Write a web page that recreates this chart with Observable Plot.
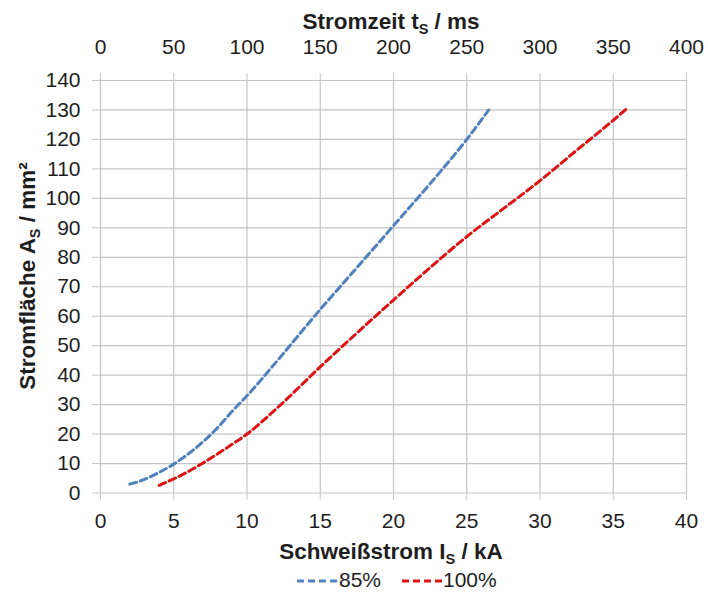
<!DOCTYPE html>
<html><head><meta charset="utf-8">
<script src="https://cdn.jsdelivr.net/npm/d3@7"></script>
<script src="https://cdn.jsdelivr.net/npm/@observablehq/plot@0.6"></script>
<style>
body{margin:0;background:#fff;font-family:"Liberation Sans",Arial,sans-serif;}
#chart{width:708px;}
#legend{position:relative;width:708px;height:25px;font-size:21px;color:#1e1e1e;}
#legend .sw{position:absolute;top:0;}
#legend .lb{position:absolute;top:-1px;line-height:22px;}
</style></head><body>
<div id="chart"></div>
<div id="legend"></div>
<script>
// Data
const current85 = [2, 3, 4, 5, 6, 7, 8, 9, 10, 12, 15, 17.5, 20, 22.5, 25, 26.5];
const area85    = [3, 4.6, 7, 9.8, 13.3, 17.4, 22.2, 27.8, 33, 44.5, 62.3, 76.5, 90.7, 105, 120, 130];
const current100 = [4, 5, 6, 7, 8, 9, 10, 12, 15, 17.5, 20, 22.5, 25, 27.5, 30, 32.5, 35, 36];
const area100    = [2.6, 4.8, 7.3, 10.2, 13.3, 16.6, 20, 28.6, 42.8, 54.3, 65.5, 76.5, 87, 96.5, 106, 116.3, 126.5, 130.8];
const seriesNames = ["85%", "100%"];
const seriesColors = ["#4f81bd", "#dc1414"];
const xTicks = [0, 5, 10, 15, 20, 25, 30, 35, 40];
const timeTickLabels = ["0", "50", "100", "150", "200", "250", "300", "350", "400"];
const yTicks = [0, 10, 20, 30, 40, 50, 60, 70, 80, 90, 100, 110, 120, 130, 140];

const s85 = current85.map((x, i) => ({x, y: area85[i]}));
const s100 = current100.map((x, i) => ({x, y: area100[i]}));

const gridColor = "#c4c4c4";
const textColor = "#1e1e1e";
const W = 708, H = 570;

const plot = Plot.plot({
  width: W, height: H,
  marginLeft: 100, marginRight: 22, marginTop: 80, marginBottom: 77.5,
  style: {fontFamily: "'Liberation Sans', Arial, sans-serif", fontSize: "21px", background: "#fff", color: textColor},
  x: {domain: [0, 40]},
  y: {domain: [0, 140]},
  marks: [
    Plot.gridX(xTicks, {stroke: gridColor, strokeOpacity: 1, strokeWidth: 1.2}),
    Plot.gridY(yTicks, {stroke: gridColor, strokeOpacity: 1, strokeWidth: 1.2}),
    Plot.axisX(xTicks, {anchor: "bottom", tickSize: 7, tickPadding: 13, stroke: gridColor, fill: textColor, fontSize: 21, label: null}),
    Plot.axisX(xTicks, {anchor: "top", tickSize: 8, tickPadding: 19, stroke: gridColor, fill: textColor, fontSize: 21, label: null,
      tickFormat: (d) => timeTickLabels[xTicks.indexOf(d)]}),
    Plot.axisY(yTicks, {anchor: "left", tickSize: 8, tickPadding: 12, stroke: gridColor, fill: textColor, fontSize: 21, label: null}),
    Plot.line(s85, {x: "x", y: "y", stroke: seriesColors[0], strokeWidth: 3, strokeDasharray: "7,4", curve: "monotone-x"}),
    Plot.line(s100, {x: "x", y: "y", stroke: seriesColors[1], strokeWidth: 3, strokeDasharray: "7,4", curve: "monotone-x"})
  ]
});
document.getElementById("chart").appendChild(plot);

// Axis titles with subscripts
const svg = d3.select(plot);
function title(x, y, rotate, before, sub, after) {
  const t = svg.append("text")
    .attr("transform", `translate(${x},${y})` + (rotate ? " rotate(-90)" : ""))
    .attr("text-anchor", "middle")
    .attr("font-weight", "bold")
    .attr("font-size", 22.5)
    .attr("fill", textColor);
  t.append("tspan").text(before);
  t.append("tspan").attr("font-size", 14.5).attr("dy", 5).text(sub);
  t.append("tspan").attr("dy", -5).text(after);
}
title(391, 29, false, "Stromzeit t", "S", " / ms");
title(391, 559, false, "Schweißstrom I", "S", " / kA");
title(35, 276, true, "Stromfläche A", "S", " / mm²");

// Legend
const legend = d3.select("#legend");
const items = [{x: 297, tx: 339}, {x: 402, tx: 443}];
items.forEach((it, i) => {
  const sw = legend.append("svg").attr("class", "sw").attr("width", 40).attr("height", 25)
    .style("left", it.x + "px");
  sw.append("line").attr("x1", 0).attr("x2", 40).attr("y1", 11).attr("y2", 11)
    .attr("stroke", seriesColors[i]).attr("stroke-width", 3).attr("stroke-dasharray", "7,4");
  legend.append("div").attr("class", "lb").style("left", it.tx + "px").text(seriesNames[i]);
});
</script>
</body></html>
